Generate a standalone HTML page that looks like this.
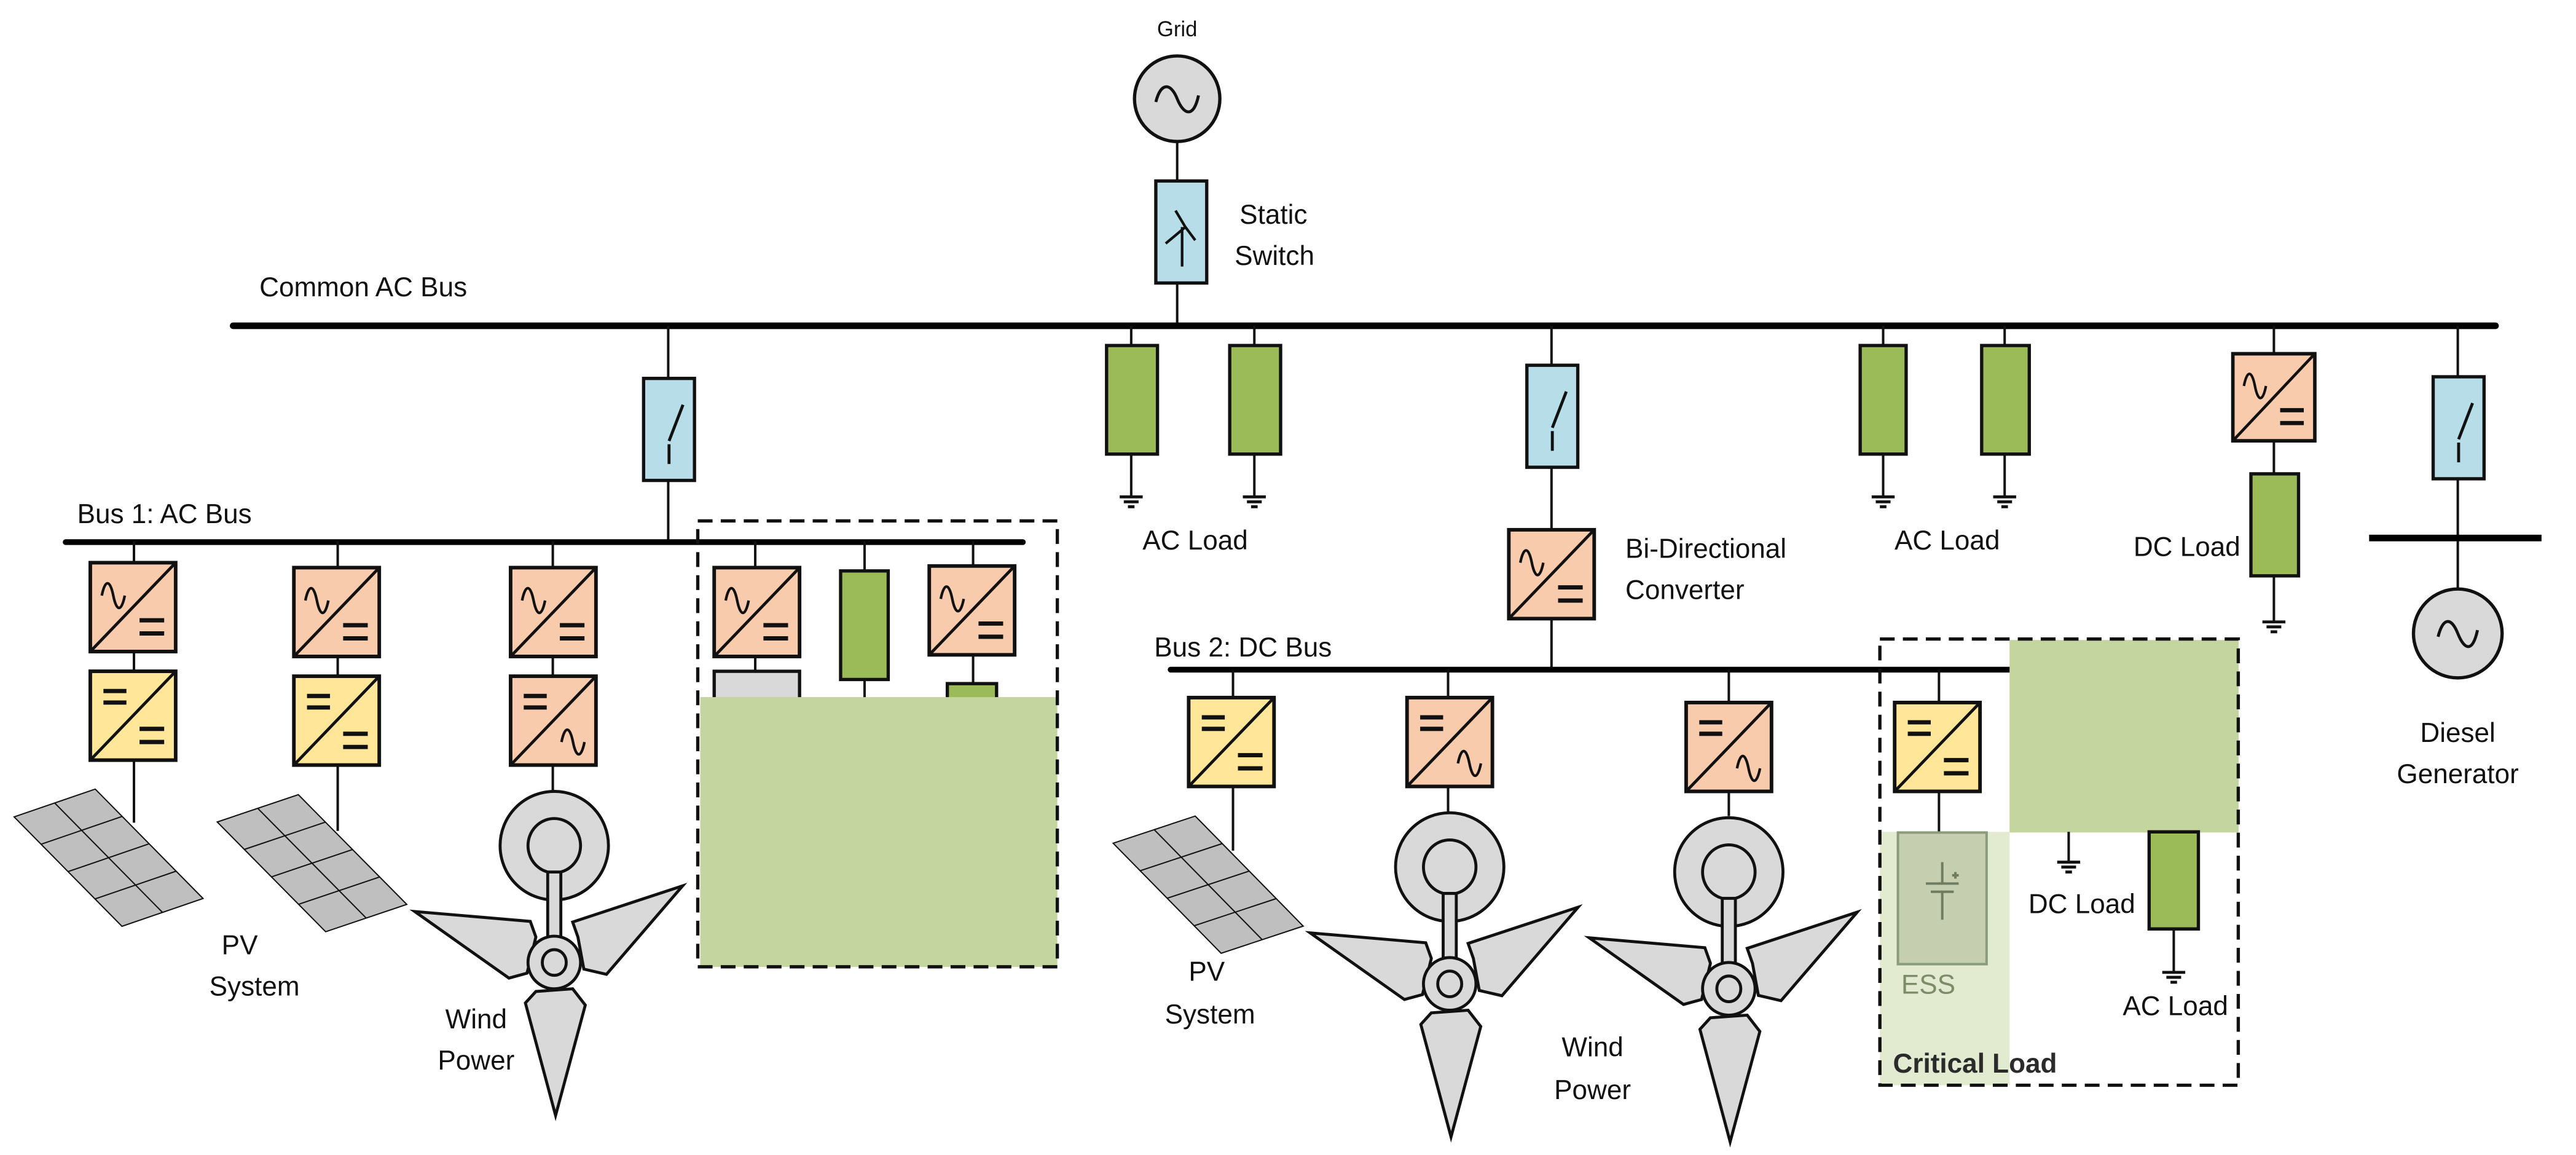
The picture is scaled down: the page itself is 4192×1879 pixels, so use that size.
<!DOCTYPE html>
<html><head><meta charset="utf-8"><style>
html,body{margin:0;padding:0;background:#fff;}
svg{display:block;}
text{font-family:"Liberation Sans",sans-serif;font-size:16.5px;fill:#111;}
</style></head><body>
<svg width="4192" height="1879" viewBox="0 0 1569 702" preserveAspectRatio="none" xmlns="http://www.w3.org/2000/svg">
<defs>
<g id="ad"><rect x="0" y="0" width="52" height="54" fill="#f8cbad" stroke="#111" stroke-width="2.2"/><line x1="0" y1="54" x2="52" y2="0" stroke="#111" stroke-width="1.8"/><path d="M7 20 c2 -10 5 -10 7 0 s5 10 7 0" fill="none" stroke="#111" stroke-width="1.6"/><line x1="30" y1="35" x2="45" y2="35" stroke="#111" stroke-width="2.6"/><line x1="30" y1="43" x2="45" y2="43" stroke="#111" stroke-width="2.6"/></g>
<g id="dd"><rect x="0" y="0" width="52" height="54" fill="#ffe699" stroke="#111" stroke-width="2.2"/><line x1="0" y1="54" x2="52" y2="0" stroke="#111" stroke-width="1.8"/><line x1="8" y1="12" x2="22" y2="12" stroke="#111" stroke-width="2.6"/><line x1="8" y1="19" x2="22" y2="19" stroke="#111" stroke-width="2.6"/><line x1="30" y1="35" x2="45" y2="35" stroke="#111" stroke-width="2.6"/><line x1="30" y1="43" x2="45" y2="43" stroke="#111" stroke-width="2.6"/></g>
<g id="da"><rect x="0" y="0" width="52" height="54" fill="#f8cbad" stroke="#111" stroke-width="2.2"/><line x1="0" y1="54" x2="52" y2="0" stroke="#111" stroke-width="1.8"/><line x1="8" y1="12" x2="22" y2="12" stroke="#111" stroke-width="2.6"/><line x1="8" y1="19" x2="22" y2="19" stroke="#111" stroke-width="2.6"/><path d="M31 40 c2 -10 5 -10 7 0 s5 10 7 0" fill="none" stroke="#111" stroke-width="1.6"/></g>
<g id="sw"><rect x="0" y="0" width="31" height="62" fill="#b7dee8" stroke="#111" stroke-width="2"/><line x1="15.5" y1="40" x2="15.5" y2="52" stroke="#111" stroke-width="1.8"/><line x1="15.5" y1="38" x2="24" y2="16" stroke="#111" stroke-width="1.8"/></g>
<g id="gnd" stroke="#111" stroke-width="1.8"><line x1="-7" y1="0" x2="7" y2="0"/><line x1="-4.5" y1="3" x2="4.5" y2="3"/><line x1="-2" y1="6" x2="2" y2="6"/></g>
<g id="panel"><rect x="0" y="0" width="50" height="92" fill="#bfbfbf" stroke="#111" stroke-width="2" vector-effect="non-scaling-stroke"/><g stroke="#111" stroke-width="2"><line x1="25" y1="0" x2="25" y2="92" vector-effect="non-scaling-stroke"/><line x1="0" y1="23" x2="50" y2="23" vector-effect="non-scaling-stroke"/><line x1="0" y1="46" x2="50" y2="46" vector-effect="non-scaling-stroke"/><line x1="0" y1="69" x2="50" y2="69" vector-effect="non-scaling-stroke"/></g></g>
<g id="tur" fill="#d9d9d9" stroke="#111" stroke-width="1.8">
<polygon points="-85,-31 -14.6,-25 -11.2,-15.5 -16.6,6.5 -27.6,9.5"/>
<polygon points="78.2,-46.6 31.8,7.2 18,4 14.4,-15.5 11.2,-24.6"/>
<polygon points="-11.2,17.6 11.2,16 18.9,25.9 0.8,93 -17.6,24.6"/>
<circle cx="0" cy="-71" r="33"/>
<ellipse cx="0" cy="-71" rx="16" ry="16.5"/>
<rect x="-4" y="-55" width="8" height="40"/>
<ellipse cx="0" cy="0" rx="16" ry="16"/>
<ellipse cx="0" cy="0" rx="7.3" ry="7.8"/>
</g>
</defs>

<text x="717" y="22" text-anchor="middle" style="font-size:13px">Grid</text>
<circle cx="717" cy="60" r="26" fill="#d9d9d9" stroke="#111" stroke-width="2"/>
<path d="M704 62 c3 -12 9 -12 13 -2 s10 12 13 -2" fill="none" stroke="#111" stroke-width="1.8"/>
<line x1="717" y1="86" x2="717" y2="110" stroke="#111" stroke-width="1.5"/>
<rect x="704" y="110" width="31" height="62" fill="#b7dee8" stroke="#111" stroke-width="2"/>
<path d="M710 148 L722 138 L728 146 M716 128 L722 138 M720 138 L720 162" fill="none" stroke="#111" stroke-width="1.6"/>
<line x1="717" y1="172" x2="717" y2="198" stroke="#111" stroke-width="1.5"/>
<text x="755" y="136">Static</text>
<text x="752" y="161">Switch</text>

<text x="158" y="180">Common AC Bus</text>
<line x1="142" y1="198" x2="1520" y2="198" stroke="#000" stroke-width="4" stroke-linecap="round"/>

<line x1="407" y1="198" x2="407" y2="329" stroke="#111" stroke-width="1.5"/>
<use href="#sw" x="392" y="230"/>

<g stroke="#111" stroke-width="1.5">
<line x1="689" y1="198" x2="689" y2="302"/><line x1="764" y1="198" x2="764" y2="302"/>
<line x1="1147" y1="198" x2="1147" y2="302"/><line x1="1221" y1="198" x2="1221" y2="302"/>
</g>
<g fill="#9bbb59" stroke="#111" stroke-width="2">
<rect x="674" y="210" width="31" height="66"/><rect x="749" y="210" width="31" height="66"/>
<rect x="1133" y="210" width="28" height="66"/><rect x="1207" y="210" width="29" height="66"/>
</g>
<use href="#gnd" x="689" y="302"/><use href="#gnd" x="764" y="302"/><use href="#gnd" x="1147" y="302"/><use href="#gnd" x="1221" y="302"/>
<text x="728" y="334" text-anchor="middle">AC Load</text>
<text x="1186" y="334" text-anchor="middle">AC Load</text>

<line x1="945" y1="198" x2="945" y2="407" stroke="#111" stroke-width="1.5"/>
<use href="#sw" x="930" y="222"/>
<use href="#ad" x="919" y="322"/>
<text x="990" y="339">Bi-Directional</text>
<text x="990" y="364">Converter</text>

<line x1="1385" y1="198" x2="1385" y2="378" stroke="#111" stroke-width="1.5"/>
<use href="#ad" transform="translate(1360 215) scale(0.96 0.98)"/>
<rect x="1371" y="288" width="29" height="62" fill="#9bbb59" stroke="#111" stroke-width="2"/>
<use href="#gnd" x="1385" y="378"/>
<text x="1332" y="338" text-anchor="middle">DC Load</text>

<line x1="1497" y1="198" x2="1497" y2="358" stroke="#111" stroke-width="1.5"/>
<use href="#sw" x="1482" y="229"/>
<line x1="1443" y1="327" x2="1548" y2="327" stroke="#000" stroke-width="4"/>
<circle cx="1497" cy="385" r="27" fill="#d9d9d9" stroke="#111" stroke-width="2"/>
<path d="M1485 387 c3 -12 8 -12 12 -2 s9 12 12 -2" fill="none" stroke="#111" stroke-width="1.8"/>
<text x="1497" y="451" text-anchor="middle">Diesel</text>
<text x="1497" y="476" text-anchor="middle">Generator</text>

<text x="47" y="318">Bus 1: AC Bus</text>
<line x1="40" y1="329.5" x2="623" y2="329.5" stroke="#000" stroke-width="3.5" stroke-linecap="round"/>
<g stroke="#111" stroke-width="1.5">
<line x1="81.6" y1="329" x2="81.6" y2="500"/>
<line x1="205.7" y1="329" x2="205.7" y2="505"/>
<line x1="336.7" y1="329" x2="336.7" y2="481"/>
<line x1="460" y1="329" x2="460" y2="410"/>
<line x1="526.6" y1="329" x2="526.6" y2="424"/>
<line x1="592.7" y1="329" x2="592.7" y2="424"/>
</g>
<use href="#ad" x="55" y="342"/><use href="#dd" x="55" y="408"/>
<use href="#ad" x="179" y="345"/><use href="#dd" x="179" y="411"/>
<use href="#ad" x="311" y="345"/><use href="#da" x="311" y="411"/>
<use href="#panel" transform="matrix(0.988,-0.338,0.714,0.723,8.6,496.5)"/>
<use href="#panel" transform="matrix(0.988,-0.332,0.718,0.725,132.3,499.6)"/>
<use href="#tur" x="337.6" y="585"/>
<text x="146" y="580" text-anchor="middle">PV</text>
<text x="155" y="605" text-anchor="middle">System</text>
<text x="290" y="625" text-anchor="middle">Wind</text>
<text x="290" y="650" text-anchor="middle">Power</text>

<use href="#ad" x="435" y="345"/>
<rect x="435" y="408" width="52" height="17" fill="#d9d9d9" stroke="#111" stroke-width="2"/>
<rect x="512" y="347" width="29" height="66" fill="#9bbb59" stroke="#111" stroke-width="2"/>
<use href="#ad" x="566" y="344"/>
<rect x="577" y="415.5" width="30" height="10" fill="#9bbb59" stroke="#111" stroke-width="2"/>
<rect x="426.5" y="423.7" width="217.5" height="164" fill="#c4d59f"/>
<rect x="425" y="316.6" width="219" height="271" fill="none" stroke="#111" stroke-width="2" stroke-dasharray="9,5"/>

<text x="703" y="399">Bus 2: DC Bus</text>
<line x1="713" y1="407" x2="1230" y2="407" stroke="#000" stroke-width="3.5" stroke-linecap="round"/>
<g stroke="#111" stroke-width="1.5">
<line x1="751" y1="407" x2="751" y2="517"/>
<line x1="882" y1="407" x2="882" y2="494"/>
<line x1="1053" y1="407" x2="1053" y2="496"/>
<line x1="1181" y1="407" x2="1181" y2="506"/>
</g>
<use href="#dd" x="724" y="424"/>
<use href="#da" x="857" y="424"/>
<use href="#da" x="1027" y="427"/>
<use href="#dd" x="1154" y="427"/>
<use href="#panel" transform="matrix(1,-0.33,0.715,0.727,678,512.5)"/>
<use href="#tur" x="883" y="598"/>
<use href="#tur" x="1053" y="601"/>
<text x="735" y="596" text-anchor="middle">PV</text>
<text x="737" y="622" text-anchor="middle">System</text>
<text x="970" y="642" text-anchor="middle">Wind</text>
<text x="970" y="668" text-anchor="middle">Power</text>

<rect x="1224" y="389" width="139.5" height="117" fill="#c4d59f"/>
<rect x="1145" y="505.6" width="79" height="154" fill="#e2ebd0"/>
<rect x="1156" y="506" width="54" height="80" fill="#c5cfb0" stroke="#8c9a7c" stroke-width="1.5"/>
<g stroke="#6f7c60" stroke-width="1.5"><line x1="1183" y1="524" x2="1183" y2="537"/><line x1="1173" y1="537" x2="1193" y2="537"/><line x1="1176" y1="542" x2="1190" y2="542"/><line x1="1183" y1="542" x2="1183" y2="559"/><line x1="1189" y1="532" x2="1193" y2="532"/><line x1="1191" y1="530" x2="1191" y2="534"/></g>
<text x="1158" y="604" style="fill:#7d8c68">ESS</text>
<line x1="1260" y1="505.6" x2="1260" y2="524" stroke="#111" stroke-width="1.5"/>
<use href="#gnd" x="1260" y="524"/>
<text x="1268" y="555" text-anchor="middle">DC Load</text>
<rect x="1309" y="505.6" width="30" height="59" fill="#9bbb59" stroke="#111" stroke-width="2"/>
<line x1="1324" y1="564" x2="1324" y2="591" stroke="#111" stroke-width="1.5"/>
<use href="#gnd" x="1324" y="591"/>
<text x="1325" y="617" text-anchor="middle">AC Load</text>
<text x="1153" y="652" style="font-weight:bold;fill:#2b2b2b">Critical Load</text>
<rect x="1145" y="388.4" width="218.3" height="271.2" fill="none" stroke="#111" stroke-width="2" stroke-dasharray="9,5"/>
</svg>
</body></html>
